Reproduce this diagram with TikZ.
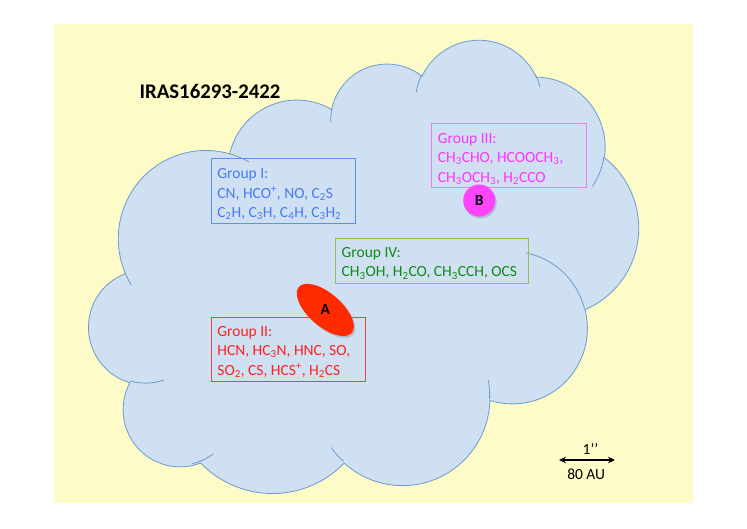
\documentclass[tikz,border=0pt]{standalone}
\usepackage{fontspec}
\setmainfont{Carlito}
\usetikzlibrary{positioning, arrows.meta, shapes.geometric, shadows}
\definecolor{bgyellow}{HTML}{FDFCC8}
\definecolor{cloudfill}{HTML}{CFE0F2}
\definecolor{cloudedge}{HTML}{6C9AD0}
\definecolor{grpone}{HTML}{4A7AEF}
\definecolor{grponeline}{HTML}{5B8FF0}
\definecolor{grptwo}{HTML}{FF2020}
\definecolor{redline}{RGB}{235,70,60}
\definecolor{grpthree}{HTML}{FF33FF}
\definecolor{grpthreeline}{HTML}{F07CF0}
\definecolor{grpfour}{HTML}{118A11}
\definecolor{grpfourline}{HTML}{9BBB59}
\definecolor{coreAfill}{HTML}{FF2A00}
\definecolor{coreBfill}{HTML}{FF44FF}

% one bump of the cloud: x radius, y radius, start angle, sweep
\newcommand\cloudarc[4]{\pgfextra{%
  \pgfmathparse{atan2((#1)*sin(#3),(#2)*cos(#3))}\xdef\cA{\pgfmathresult}%
  \pgfmathparse{atan2((#1)*sin((#3)+(#4)),(#2)*cos((#3)+(#4)))}\xdef\cB{\pgfmathresult}%
  \pgfmathparse{mod(\cB-\cA+720,360)}\xdef\cD{\pgfmathresult}}%
  arc[x radius=#1, y radius=#2, start angle=\cA, delta angle=\cD]}

\begin{document}
\begin{tikzpicture}[x=1pt, y=-1pt,
    >={Stealth[length=7pt, width=6.5pt]},
    grpbox/.style={rectangle, line width=1pt, inner sep=0pt},
    grptext/.style={anchor=west, align=left, inner sep=0pt, font=\fontsize{15.5}{19.3}\selectfont},
    core/.style={inner sep=0pt, drop shadow={opacity=0.35, shadow xshift=1.5pt, shadow yshift=-2pt}},
    corelabel/.style={font=\bfseries\fontsize{15.5}{18}\selectfont},
    barlabel/.style={font=\fontsize{15.5}{18}\selectfont, inner sep=0pt}
]
\useasboundingbox (0,0) rectangle (747,528);

% 1. Hintergrund
\fill[bgyellow] (54,24) rectangle (693,503);

% 2. Wolke (gedreht und gestreckt)
\begin{scope}[x=1pt, y=1pt, shift={(365.27pt,-281.6pt)}, rotate=14.7,
              xscale=13.0, yscale=-9.637, shift={(-21.6pt,-21.6pt)}]
\filldraw[fill=cloudfill, draw=cloudedge, line width=0.8pt] (3.900,14.370)
  \cloudarc{6.753}{9.190}{-190.4875}{123.7805}
  \cloudarc{5.333}{7.267}{-144.1024}{89.9452}
  \cloudarc{4.365}{5.945}{-145.8079}{99.7230}
  \cloudarc{4.857}{6.595}{-130.9861}{117.2417}
  \cloudarc{5.333}{7.273}{-78.7089}{109.0269}
  \cloudarc{6.775}{9.220}{-46.2673}{130.2690}
  \cloudarc{5.785}{7.867}{0.6250}{114.0333}
  \cloudarc{6.752}{9.215}{22.4516}{115.1726}
  \cloudarc{7.720}{10.543}{66.2426}{75.7110}
  \cloudarc{4.360}{5.918}{-274.9421}{146.7356}
  \cloudarc{4.345}{5.945}{-246.8285}{152.5189} -- cycle;
\draw[cloudedge, line width=0.8pt]
  (4.693,26.177) \cloudarc{4.345}{5.945}{86.7420}{26.4295}
  (6.928,34.899) \cloudarc{4.360}{5.918}{73.6105}{17.6037}
  (16.478,39.090) \cloudarc{6.752}{9.215}{137.6242}{14.0811}
  (28.827,34.751) \cloudarc{6.752}{9.215}{6.4533}{15.9984}
  (34.129,22.954) \cloudarc{5.785}{7.867}{-70.2924}{70.9174}
  (41.798,15.354) \cloudarc{5.333}{7.273}{30.3180}{27.7515}
  (38.324,5.426) \cloudarc{4.857}{6.595}{-13.7443}{14.8589}
  (29.078,3.952) \cloudarc{4.857}{6.595}{-149.1815}{18.1954}
  (22.141,4.720) \cloudarc{4.365}{5.945}{-163.4943}{17.6864}
  (14.000,5.192) \cloudarc{6.753}{9.190}{-66.7070}{12.3194}
  (4.127,15.789) \cloudarc{6.753}{9.190}{157.6544}{11.8582};
\end{scope}

% 3. Titel
\node[anchor=base, inner sep=0pt, font=\bfseries\fontsize{20.8}{25}\selectfont] (title) at (210,98.3) {IRAS16293-2422};

% 4. Molekuelgruppen: Rahmen und Text
\node[grpbox, draw=grponeline, minimum width=144pt, minimum height=65pt] (grpI) at (283.7,190.8) {};
\node[grptext, text=grpone] (txtI) at ([xshift=6pt, yshift=-3.4pt]grpI.west)
  {Group I:\\CN, HCO\textsuperscript{+}, NO, C\textsubscript{2}S\\C\textsubscript{2}H, C\textsubscript{3}H, C\textsubscript{4}H, C\textsubscript{3}H\textsubscript{2}};

\node[grpbox, draw=grpthreeline, minimum width=155pt, minimum height=64.4pt] (grpIII) at (509.2,155.5) {};
\node[grptext, text=grpthree] (txtIII) at ([xshift=6.5pt, yshift=-3.3pt]grpIII.west)
  {Group III:\\CH\textsubscript{3}CHO, HCOOCH\textsubscript{3},\\CH\textsubscript{3}OCH\textsubscript{3}, H\textsubscript{2}CCO};

\node[grpbox, draw=grpfourline, minimum width=193.7pt, minimum height=44.6pt] (grpIV) at (431.85,261) {};
\node[grptext, text=grpfour] (txtIV) at ([xshift=7pt, yshift=-2.3pt]grpIV.west)
  {Group IV:\\CH\textsubscript{3}OH, H\textsubscript{2}CO, CH\textsubscript{3}CCH, OCS};

\node[grpbox, draw=redline, minimum width=154pt, minimum height=64.4pt] (grpII) at (288.7,349.5) {};
\node[grptext, text=grptwo] (txtII) at ([xshift=6pt, yshift=-2.3pt]grpII.west)
  {Group II:\\HCN, HC\textsubscript{3}N, HNC, SO,\\SO\textsubscript{2}, CS, HCS\textsuperscript{+}, H\textsubscript{2}CS};

% 5. Quellen A und B
\node[core, ellipse, fill=coreAfill, minimum width=70pt, minimum height=33pt, rotate=-41] (srcA) at (325.3,309.9) {};
\node[corelabel] (labA) at (srcA.center) {A};
\node[core, circle, fill=coreBfill, minimum size=32pt] (srcB) at (479.2,200.5) {};
\node[corelabel] (labB) at (srcB.center) {B};

% 6. Massstab
\coordinate (barL) at (559,460);
\coordinate (barR) at (615,460);
\draw[<->, line width=1.6pt] (barL) -- (barR);
\node[barlabel, anchor=base] (arcsec) at (590.5,454) {1’’};
\node[barlabel, anchor=base] (au) at (586.2,479) {80 AU};

\end{tikzpicture}
\end{document}
